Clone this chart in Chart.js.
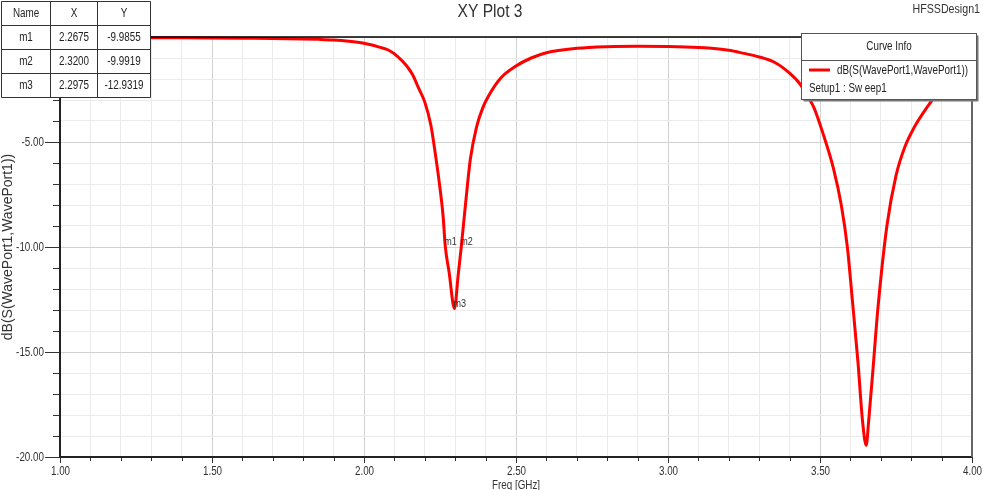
<!DOCTYPE html>
<html>
<head>
<meta charset="utf-8">
<script src="https://cdn.jsdelivr.net/npm/chart.js@4.4.1/dist/chart.umd.min.js"></script>
<style>
  html, body { margin: 0; padding: 0; background: #ffffff; }
  canvas { display: block; }
</style>
</head>
<body>
<canvas id="c" width="983" height="490"></canvas>
<script>
// ---- Data ----
const freqGHz = [1.00, 1.10, 1.20, 1.30, 1.40, 1.50, 1.60, 1.70, 1.80, 1.85, 1.90, 1.95, 2.00, 2.05, 2.08, 2.11, 2.14, 2.16, 2.18, 2.20, 2.22, 2.235, 2.25, 2.26, 2.2675, 2.28, 2.2975, 2.31, 2.32, 2.335, 2.35, 2.37, 2.39, 2.41, 2.45, 2.50, 2.55, 2.60, 2.70, 2.80, 2.90, 3.00, 3.10, 3.20, 3.25, 3.30, 3.35, 3.40, 3.435, 3.46, 3.48, 3.51, 3.545, 3.57, 3.59, 3.605, 3.625, 3.64, 3.652, 3.66, 3.675, 3.69, 3.72, 3.75, 3.78, 3.81, 3.84, 3.875, 3.92, 3.96, 4.00];
const s11dB = [-0.02, -0.02, -0.02, -0.03, -0.04, -0.05, -0.06, -0.07, -0.09, -0.11, -0.14, -0.2, -0.3, -0.48, -0.62, -0.92, -1.37, -1.8, -2.45, -3.1, -4.2, -5.6, -7.2, -8.5, -9.9855, -11.2, -12.9319, -11.3, -9.9919, -7.8, -5.8, -4.3, -3.4, -2.8, -1.95, -1.38, -1.0, -0.75, -0.54, -0.46, -0.44, -0.45, -0.5, -0.63, -0.78, -0.95, -1.2, -1.72, -2.25, -2.85, -3.36, -4.6, -6.3, -8.0, -10.0, -12.3, -15.5, -18.3, -19.44, -18.3, -15.7, -13.0, -9.0, -6.6, -5.2, -4.3, -3.6, -2.9, -2.3, -1.95, -1.7];

const markerNames = ['m1', 'm2', 'm3'];
const markerX = [2.2675, 2.3200, 2.2975];
const markerY = [-9.9855, -9.9919, -12.9319];
const markerXText = ['2.2675', '2.3200', '2.2975'];
const markerYText = ['-9.9855', '-9.9919', '-12.9319'];

const xTickLabels = ['1.00', '1.50', '2.00', '2.50', '3.00', '3.50', '4.00'];
const yTickLabels = ['-5.00', '-10.00', '-15.00', '-20.00'];

const chartTitle = 'XY Plot 3';
const designName = 'HFSSDesign1';
const xAxisTitle = 'Freq [GHz]';
const yAxisTitle = 'dB(S(WavePort1,WavePort1))';
const curveName = 'dB(S(WavePort1,WavePort1))';
const curveSetup = 'Setup1 : Sw eep1';

// ---- Styling ----
const FAM = "'Liberation Sans', Arial, sans-serif";
const NX = 0.82; // horizontal squeeze to mimic a narrow face

function isMajorX(v) { return xTickLabels.includes(v.toFixed(2)); }
function isMajorY(v) { return yTickLabels.includes(v.toFixed(2)) || Math.abs(v) < 1e-9; }

function ctext(ctx, str, x, y, size, align, sx, color) {
  ctx.save();
  ctx.font = size + 'px ' + FAM;
  ctx.fillStyle = color || '#333';
  ctx.textAlign = align;
  ctx.textBaseline = 'middle';
  ctx.translate(x, y);
  ctx.scale(sx, 1);
  ctx.fillText(str, 0, 0);
  ctx.restore();
}

const overlay = {
  id: 'overlay',
  afterDraw(chart) {
    const ctx = chart.ctx;
    const a = chart.chartArea;
    const xs = chart.scales.x, ys = chart.scales.y;
    ctx.save();

    // tick marks + tick labels (positions from the chart scales)
    ctx.strokeStyle = '#333';
    ctx.lineWidth = 1;
    xs.ticks.forEach(t => {
      const px = Math.round(xs.getPixelForValue(t.value)) + 0.5;
      const major = isMajorX(t.value);
      const len = major ? 6 : 4;
      ctx.beginPath(); ctx.moveTo(px, a.bottom); ctx.lineTo(px, a.bottom + len); ctx.stroke();
      if (major) ctext(ctx, t.value.toFixed(2), px, 472, 12, 'center', NX, '#333');
    });
    ys.ticks.forEach(t => {
      const py = Math.round(ys.getPixelForValue(t.value)) + 0.5;
      const s = t.value.toFixed(2);
      const major = isMajorY(t.value);
      const len = major ? 15 : 7;
      ctx.beginPath(); ctx.moveTo(a.left, py); ctx.lineTo(a.left - len, py); ctx.stroke();
      if (yTickLabels.includes(s)) ctext(ctx, s, 44, py, 12, 'right', NX, '#333');
    });

    // borders
    ctx.lineWidth = 2;
    ctx.strokeStyle = '#222';
    ctx.beginPath(); ctx.moveTo(a.left, a.top); ctx.lineTo(a.left, a.bottom); ctx.lineTo(a.right, a.bottom); ctx.stroke();
    ctx.strokeStyle = '#666';
    ctx.beginPath(); ctx.moveTo(a.right, a.bottom); ctx.lineTo(a.right, a.top); ctx.stroke();
    ctx.lineWidth = 1.5;
    ctx.strokeStyle = '#000';
    ctx.beginPath(); ctx.moveTo(a.left, a.top); ctx.lineTo(a.right, a.top); ctx.stroke();

    // marker labels
    markerNames.forEach((n, i) => {
      const px = xs.getPixelForValue(markerX[i]);
      const py = ys.getPixelForValue(markerY[i]);
      ctx.save();
      ctx.font = '11px ' + FAM;
      ctx.fillStyle = '#333';
      ctx.textAlign = 'left';
      ctx.textBaseline = 'bottom';
      ctx.translate(px - 1, py + 1);
      ctx.scale(NX, 1);
      ctx.fillText(n, 0, 0);
      ctx.restore();
    });

    // titles
    ctext(ctx, chartTitle, 490, 12, 19, 'center', NX, '#333');
    ctext(ctx, designName, 980, 9, 13, 'right', NX, '#333');
    ctext(ctx, xAxisTitle, (a.left + a.right) / 2, 486, 12, 'center', NX, '#333');
    ctx.save();
    ctx.translate(8, (a.top + a.bottom) / 2);
    ctx.rotate(-Math.PI / 2);
    ctx.font = '14px ' + FAM;
    ctx.fillStyle = '#333';
    ctx.textAlign = 'center';
    ctx.textBaseline = 'middle';
    ctx.fillText(yAxisTitle, 0, 0);
    ctx.restore();

    // marker table
    const colX = [1.5, 50.5, 97.5, 150.5];
    const rowY = [1.5, 25.5, 49.5, 73.5, 97.5];
    ctx.fillStyle = '#fff';
    ctx.fillRect(colX[0], rowY[0], colX[3] - colX[0], rowY[4] - rowY[0]);
    ctx.strokeStyle = '#333';
    ctx.lineWidth = 1;
    colX.forEach(x => { ctx.beginPath(); ctx.moveTo(x, rowY[0]); ctx.lineTo(x, rowY[4]); ctx.stroke(); });
    rowY.forEach(y => { ctx.beginPath(); ctx.moveTo(colX[0], y); ctx.lineTo(colX[3], y); ctx.stroke(); });
    const rows = [['Name', 'X', 'Y']].concat(markerNames.map((n, i) => [n, markerXText[i], markerYText[i]]));
    rows.forEach((r, ri) => {
      r.forEach((cell, ci) => {
        ctext(ctx, cell, (colX[ci] + colX[ci + 1]) / 2, (rowY[ri] + rowY[ri + 1]) / 2 + 0.5, 12, 'center', NX, '#222');
      });
    });

    // legend box
    const L = 801.5, T = 33.5, W = 175, H = 66;
    ctx.fillStyle = '#777';
    ctx.fillRect(L + 2, T + 2, W, H);
    ctx.fillStyle = '#fff';
    ctx.fillRect(L, T, W, H);
    ctx.strokeStyle = '#555';
    ctx.lineWidth = 1;
    ctx.strokeRect(L, T, W, H);
    ctx.beginPath(); ctx.moveTo(L, 60.5); ctx.lineTo(L + W, 60.5); ctx.stroke();
    ctext(ctx, 'Curve Info', L + W / 2, 46.5, 12, 'center', NX, '#222');
    ctx.strokeStyle = '#ff0000';
    ctx.lineWidth = 3;
    ctx.beginPath(); ctx.moveTo(809, 70); ctx.lineTo(830, 70); ctx.stroke();
    ctext(ctx, curveName, 837, 70.5, 12, 'left', NX, '#222');
    ctext(ctx, curveSetup, 809, 88.5, 12, 'left', NX, '#222');

    ctx.restore();
  }
};

new Chart(document.getElementById('c'), {
  type: 'line',
  data: {
    datasets: [{
      data: freqGHz.map((f, i) => ({ x: f, y: s11dB[i] })),
      borderColor: '#ff0000',
      borderWidth: 3,
      pointRadius: 0,
      fill: false,
      cubicInterpolationMode: 'monotone',
      clip: false
    }]
  },
  options: {
    responsive: false,
    animation: false,
    events: [],
    layout: { padding: { top: 37, right: 11, left: 0, bottom: 0 } },
    plugins: { legend: { display: false }, tooltip: { enabled: false }, title: { display: false } },
    scales: {
      x: {
        type: 'linear', min: 1, max: 4,
        afterBuildTicks: s => { const t = []; for (let i = 0; i <= 30; i++) t.push({ value: 1 + i / 10 }); s.ticks = t; },
        afterFit: s => { s.height = 33; s.paddingLeft = 0; s.paddingRight = 0; },
        border: { display: false },
        grid: {
          drawTicks: false,
          color: c => (c.tick && isMajorX(c.tick.value)) ? '#d2d2d2' : '#ebebeb',
          lineWidth: 1
        },
        ticks: { display: false }
      },
      y: {
        type: 'linear', min: -20, max: 0,
        afterBuildTicks: s => { const t = []; for (let i = 0; i <= 20; i++) t.push({ value: -20 + i }); s.ticks = t; },
        afterFit: s => { s.width = 60; s.paddingTop = 0; s.paddingBottom = 0; },
        border: { display: false },
        grid: {
          drawTicks: false,
          color: c => (c.tick && isMajorY(c.tick.value)) ? '#d2d2d2' : '#ebebeb',
          lineWidth: 1
        },
        ticks: { display: false }
      }
    }
  },
  plugins: [overlay]
});
</script>
</body>
</html>
